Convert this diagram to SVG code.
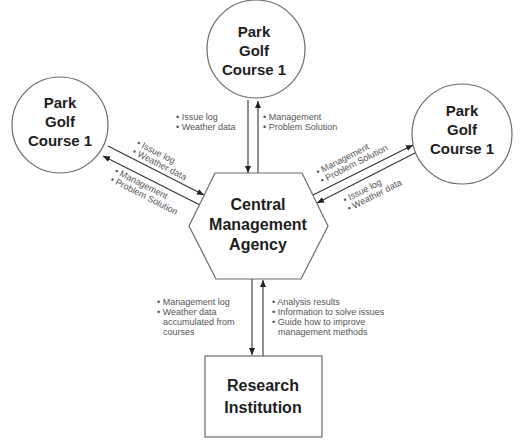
<svg xmlns="http://www.w3.org/2000/svg" width="526" height="440" viewBox="0 0 526 440">
<style>
.node{fill:#fff;stroke:#6b6b6b;stroke-width:1.2}
.title{font-family:"Liberation Sans",Arial,sans-serif;font-weight:bold;fill:#1e1e1e;text-anchor:middle}
.lbl{font-family:"Liberation Sans",Arial,sans-serif;font-size:9px;fill:#555}
.conn{stroke:#333;stroke-width:1.1;fill:none;marker-end:url(#ah)}
</style>
<defs>
<marker id="ah" markerWidth="7" markerHeight="6" refX="7" refY="3" orient="auto" markerUnits="userSpaceOnUse">
<path d="M0,0 L7,3 L0,6 Z" fill="#222"/>
</marker>
</defs>
<rect width="526" height="440" fill="#fff"/>

<g id="connectors">
<line class="conn" x1="248" y1="100" x2="248" y2="173"/>
<line class="conn" x1="258" y1="173" x2="258" y2="101"/>
<line class="conn" x1="108" y1="146" x2="204" y2="195"/>
<line class="conn" x1="200" y1="205" x2="103" y2="156"/>
<line class="conn" x1="313" y1="195" x2="413" y2="145"/>
<line class="conn" x1="415" y1="153" x2="317" y2="203"/>
<line class="conn" x1="252" y1="279" x2="252" y2="355"/>
<line class="conn" x1="263" y1="356" x2="263" y2="280"/>
</g>

<g id="labels">
<text class="lbl" x="176" y="120">• Issue log</text>
<text class="lbl" x="176" y="130">• Weather data</text>
<text class="lbl" x="263" y="120">• Management</text>
<text class="lbl" x="263" y="130">• Problem Solution</text>

<g transform="translate(136,145) rotate(27)">
<text class="lbl" x="0" y="0">• Issue log</text>
<text class="lbl" x="0" y="9.5">• Weather data</text>
</g>
<g transform="translate(114,173) rotate(27)">
<text class="lbl" x="0" y="0">• Management</text>
<text class="lbl" x="0" y="9.5">• Problem Solution</text>
</g>
<g transform="translate(318,175) rotate(-27)">
<text class="lbl" x="0" y="0">• Management</text>
<text class="lbl" x="0" y="9.5">• Problem Solution</text>
</g>
<g transform="translate(345,203) rotate(-27)">
<text class="lbl" x="0" y="0">• Issue log</text>
<text class="lbl" x="0" y="9.5">• Weather data</text>
</g>

<text class="lbl" x="157" y="305">• Management log</text>
<text class="lbl" x="157" y="315">• Weather data</text>
<text class="lbl" x="163" y="325">accumulated from</text>
<text class="lbl" x="163" y="335">courses</text>
<text class="lbl" x="272" y="305">• Analysis results</text>
<text class="lbl" x="272" y="315">• Information to solve issues</text>
<text class="lbl" x="272" y="325">• Guide how to improve</text>
<text class="lbl" x="278" y="335">management methods</text>
</g>

<g id="course-top">
<circle class="node" cx="256" cy="49" r="49"/>
<text class="title" font-size="15" x="254" y="37">Park</text>
<text class="title" font-size="15" x="254" y="56">Golf</text>
<text class="title" font-size="15" x="254" y="75">Course 1</text>
</g>

<g id="course-left">
<circle class="node" cx="60" cy="125" r="48"/>
<text class="title" font-size="15" x="60" y="108">Park</text>
<text class="title" font-size="15" x="60" y="127">Golf</text>
<text class="title" font-size="15" x="60" y="146">Course 1</text>
</g>

<g id="course-right">
<circle class="node" cx="462" cy="134" r="50"/>
<text class="title" font-size="15" x="462" y="116">Park</text>
<text class="title" font-size="15" x="462" y="135">Golf</text>
<text class="title" font-size="15" x="462" y="154">Course 1</text>
</g>

<g id="central">
<polygon class="node" points="215,173 302,173 328,226 301,279 216,279 189,226"/>
<text class="title" font-size="16" x="258" y="210">Central</text>
<text class="title" font-size="16" x="258" y="230">Management</text>
<text class="title" font-size="16" x="258" y="250">Agency</text>
</g>

<g id="research">
<rect class="node" x="205" y="356" width="117" height="81"/>
<text class="title" font-size="16" x="263" y="391">Research</text>
<text class="title" font-size="16" x="263" y="413">Institution</text>
</g>
</svg>
